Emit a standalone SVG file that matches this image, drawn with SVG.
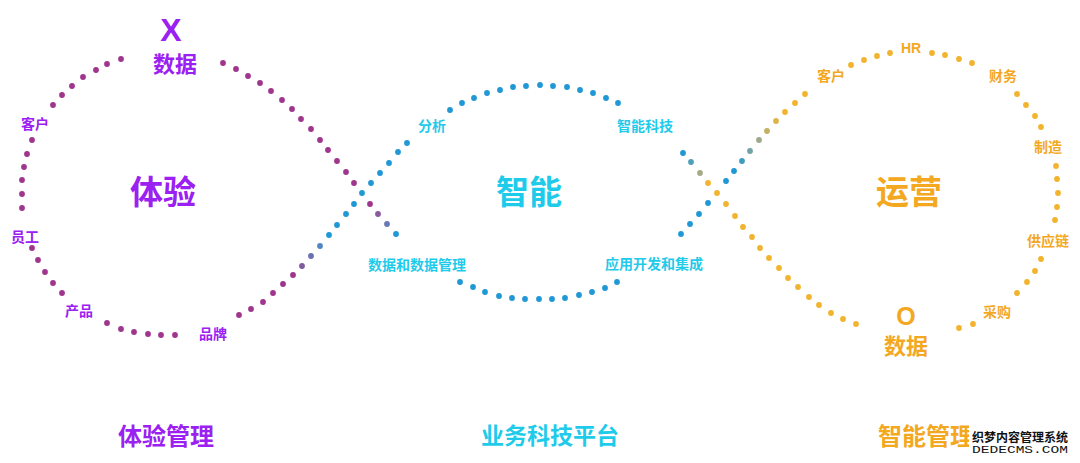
<svg xmlns="http://www.w3.org/2000/svg" width="1080" height="463" viewBox="0 0 1080 463">
<style>
text{font-family:"Noto Sans CJK SC","Noto Sans",sans-serif;font-weight:bold;text-anchor:middle;dominant-baseline:central}
.m{fill:#a0358e}.b{fill:#1f98d5}.o{fill:#f2b42e}
circle{r:2.9px}
.tp{fill:#9b20f2}.tc{fill:#1fcbea}.to{fill:#f3a81f}
.s{font-size:14px}.big{font-size:33px}.mid{font-size:22px}.bot{font-size:24px}
</style>
<rect width="1080" height="463" fill="#ffffff"/>
<g id="connectors">
<g id="loop-left">
<circle class="m" cx="121" cy="59" r="2.9"/><circle class="m" cx="107" cy="64" r="2.9"/><circle class="m" cx="96" cy="70" r="2.9"/><circle class="m" cx="83" cy="77" r="2.9"/><circle class="m" cx="72" cy="86" r="2.9"/><circle class="m" cx="62" cy="95" r="2.9"/><circle class="m" cx="53" cy="105" r="2.9"/>
<circle class="m" cx="32" cy="140" r="2.9"/><circle class="m" cx="27" cy="154" r="2.9"/><circle class="m" cx="24" cy="167" r="2.9"/><circle class="m" cx="22" cy="180" r="2.9"/><circle class="m" cx="22" cy="194" r="2.9"/><circle class="m" cx="22" cy="208" r="2.9"/>
<circle class="m" cx="32" cy="248" r="2.9"/><circle class="m" cx="38" cy="260" r="2.9"/><circle class="m" cx="45" cy="272" r="2.9"/><circle class="m" cx="53" cy="283" r="2.9"/><circle class="m" cx="62" cy="293" r="2.9"/>
<circle class="m" cx="107" cy="323" r="2.9"/><circle class="m" cx="121" cy="329" r="2.9"/><circle class="m" cx="134" cy="332" r="2.9"/><circle class="m" cx="148" cy="334" r="2.9"/><circle class="m" cx="161" cy="335" r="2.9"/><circle class="m" cx="175" cy="335" r="2.9"/>
<circle class="m" cx="239" cy="315" r="2.9"/><circle class="m" cx="251" cy="309" r="2.9"/><circle class="m" cx="263" cy="302" r="2.9"/><circle class="m" cx="273" cy="293" r="2.9"/><circle class="m" cx="283" cy="284" r="2.9"/><circle class="m" cx="293" cy="275" r="2.9"/>
<circle fill="#7f5a9e" cx="302" cy="266" r="2.9"/><circle fill="#6a70b0" cx="311" cy="256" r="2.9"/><circle fill="#4f86c4" cx="320" cy="246" r="2.9"/>
<circle class="b" cx="329" cy="235" r="2.9"/><circle class="b" cx="337" cy="225" r="2.9"/><circle class="b" cx="346" cy="214" r="2.9"/><circle class="b" cx="354" cy="204" r="2.9"/><circle class="b" cx="362" cy="193" r="2.9"/><circle class="b" cx="371" cy="183" r="2.9"/><circle class="b" cx="380" cy="173" r="2.9"/><circle class="b" cx="389" cy="163" r="2.9"/><circle class="b" cx="398" cy="152" r="2.9"/><circle class="b" cx="407" cy="143" r="2.9"/>
<circle class="m" cx="223" cy="63" r="2.9"/><circle class="m" cx="236" cy="69" r="2.9"/><circle class="m" cx="248" cy="76" r="2.9"/><circle class="m" cx="260" cy="83" r="2.9"/><circle class="m" cx="271" cy="91" r="2.9"/><circle class="m" cx="282" cy="100" r="2.9"/><circle class="m" cx="292" cy="109" r="2.9"/><circle class="m" cx="301" cy="119" r="2.9"/><circle class="m" cx="311" cy="129" r="2.9"/><circle class="m" cx="320" cy="140" r="2.9"/><circle class="m" cx="328" cy="150" r="2.9"/><circle class="m" cx="337" cy="161" r="2.9"/><circle class="m" cx="346" cy="172" r="2.9"/><circle class="m" cx="354" cy="183" r="2.9"/>
<circle class="m" cx="370" cy="204" r="2.9"/><circle fill="#8a5a9e" cx="378" cy="214" r="2.9"/><circle fill="#6a78b4" cx="387" cy="224" r="2.9"/><circle class="b" cx="396" cy="234" r="2.9"/>
</g>
<g id="loop-middle">
<circle class="b" cx="450" cy="110" r="2.9"/><circle class="b" cx="462" cy="103" r="2.9"/><circle class="b" cx="474" cy="98" r="2.9"/><circle class="b" cx="487" cy="93" r="2.9"/><circle class="b" cx="500" cy="90" r="2.9"/><circle class="b" cx="513" cy="87" r="2.9"/><circle class="b" cx="526" cy="86" r="2.9"/><circle class="b" cx="540" cy="85" r="2.9"/><circle class="b" cx="553" cy="86" r="2.9"/><circle class="b" cx="567" cy="87" r="2.9"/><circle class="b" cx="580" cy="90" r="2.9"/><circle class="b" cx="593" cy="93" r="2.9"/><circle class="b" cx="606" cy="98" r="2.9"/><circle class="b" cx="618" cy="103" r="2.9"/>
<circle class="b" cx="683" cy="153" r="2.9"/><circle fill="#4fa0b8" cx="691" cy="162" r="2.9"/><circle fill="#a4ab86" cx="700" cy="173" r="2.9"/>
<circle class="b" cx="681" cy="234" r="2.9"/><circle class="b" cx="690" cy="224" r="2.9"/><circle class="b" cx="699" cy="214" r="2.9"/><circle class="b" cx="708" cy="203" r="2.9"/>
<circle class="b" cx="726" cy="181" r="2.9"/><circle class="b" cx="734" cy="171" r="2.9"/><circle fill="#3f9cbc" cx="742" cy="161" r="2.9"/><circle fill="#70a2a6" cx="750" cy="151" r="2.9"/><circle fill="#9ea98a" cx="759" cy="140" r="2.9"/>
<circle class="b" cx="460" cy="282" r="2.9"/><circle class="b" cx="473" cy="287" r="2.9"/><circle class="b" cx="485" cy="292" r="2.9"/><circle class="b" cx="499" cy="296" r="2.9"/><circle class="b" cx="512" cy="298" r="2.9"/><circle class="b" cx="525" cy="299" r="2.9"/><circle class="b" cx="539" cy="299" r="2.9"/><circle class="b" cx="552" cy="299" r="2.9"/><circle class="b" cx="565" cy="298" r="2.9"/><circle class="b" cx="579" cy="295" r="2.9"/><circle class="b" cx="592" cy="292" r="2.9"/><circle class="b" cx="605" cy="288" r="2.9"/><circle class="b" cx="617" cy="282" r="2.9"/>
</g>
<g id="loop-right">
<circle fill="#c2b160" cx="767" cy="131" r="2.9"/><circle fill="#dcb448" cx="776" cy="121" r="2.9"/><circle class="o" cx="785" cy="112" r="2.9"/><circle class="o" cx="795" cy="103" r="2.9"/><circle class="o" cx="805" cy="94" r="2.9"/>
<circle class="o" cx="851" cy="65" r="2.9"/><circle class="o" cx="864" cy="60" r="2.9"/><circle class="o" cx="877" cy="56" r="2.9"/><circle class="o" cx="890" cy="53" r="2.9"/>
<circle class="o" cx="932" cy="53" r="2.9"/><circle class="o" cx="945" cy="55" r="2.9"/><circle class="o" cx="959" cy="59" r="2.9"/><circle class="o" cx="972" cy="63" r="2.9"/>
<circle class="o" cx="1017" cy="94" r="2.9"/><circle class="o" cx="1026" cy="105" r="2.9"/><circle class="o" cx="1035" cy="116" r="2.9"/><circle class="o" cx="1041" cy="127" r="2.9"/>
<circle class="o" cx="1056" cy="166" r="2.9"/><circle class="o" cx="1057" cy="179" r="2.9"/><circle class="o" cx="1058" cy="193" r="2.9"/><circle class="o" cx="1057" cy="207" r="2.9"/><circle class="o" cx="1055" cy="220" r="2.9"/>
<circle class="o" cx="1041" cy="259" r="2.9"/><circle class="o" cx="1035" cy="271" r="2.9"/><circle class="o" cx="1027" cy="282" r="2.9"/><circle class="o" cx="1017" cy="293" r="2.9"/>
<circle class="o" cx="973" cy="324" r="2.9"/><circle class="o" cx="959" cy="328" r="2.9"/>
<circle class="o" cx="708" cy="183" r="2.9"/><circle class="o" cx="717" cy="193" r="2.9"/><circle class="o" cx="726" cy="204" r="2.9"/><circle class="o" cx="735" cy="216" r="2.9"/><circle class="o" cx="743" cy="227" r="2.9"/><circle class="o" cx="752" cy="237" r="2.9"/><circle class="o" cx="760" cy="248" r="2.9"/><circle class="o" cx="769" cy="258" r="2.9"/><circle class="o" cx="779" cy="268" r="2.9"/><circle class="o" cx="788" cy="278" r="2.9"/><circle class="o" cx="798" cy="287" r="2.9"/><circle class="o" cx="809" cy="297" r="2.9"/><circle class="o" cx="819" cy="305" r="2.9"/><circle class="o" cx="831" cy="313" r="2.9"/><circle class="o" cx="843" cy="319" r="2.9"/><circle class="o" cx="856" cy="324" r="2.9"/>
</g>
</g>
<g id="node-tiyan">
<text class="tp big" x="163" y="190">体验</text>
<text class="tp" x="171" y="30" style="font-size:32px;font-family:'Liberation Sans',sans-serif">X</text>
<text class="tp mid" x="175" y="62">数据</text>
<text class="tp s" x="35" y="123">客户</text>
<text class="tp s" x="25" y="236">员工</text>
<text class="tp s" x="79" y="310">产品</text>
<text class="tp s" x="213" y="333">品牌</text>
</g>
<g id="node-zhineng">
<text class="tc big" x="529" y="190">智能</text>
<text class="tc s" x="432" y="125">分析</text>
<text class="tc s" x="645" y="125">智能科技</text>
<text class="tc s" x="417" y="264">数据和数据管理</text>
<text class="tc s" x="654" y="263">应用开发和集成</text>
</g>
<g id="node-yunying">
<text class="to big" x="909" y="190">运营</text>
<text class="to" x="906" y="316" style="font-size:25px;font-family:'Liberation Sans',sans-serif">O</text>
<text class="to mid" x="906" y="344">数据</text>
<text class="to s" x="831" y="75">客户</text>
<text class="to s" x="911" y="48" style="font-family:'Liberation Sans',sans-serif">HR</text>
<text class="to s" x="1003" y="75">财务</text>
<text class="to s" x="1048" y="146">制造</text>
<text class="to s" x="1048" y="240">供应链</text>
<text class="to s" x="997" y="311">采购</text>
</g>
<g id="bottom-labels">
<text class="tp bot" x="166" y="434">体验管理</text>
<text class="tc bot" x="550" y="434" style="font-size:23px">业务科技平台</text>
<text class="to bot" x="926" y="434">智能管理</text>
</g>
<g id="watermark">
<rect x="969" y="424" width="111" height="36" fill="#ffffff"/>
<text x="1020" y="436" style="font-size:12px;font-weight:bold;fill:#111" textLength="96" lengthAdjust="spacingAndGlyphs">织梦内容管理系统</text>
<text x="1020" y="450" style="font-size:10px;font-weight:normal;fill:#111;font-family:'Liberation Mono',monospace" textLength="96" lengthAdjust="spacingAndGlyphs">DEDECMS.COM</text>
</g>
</svg>
